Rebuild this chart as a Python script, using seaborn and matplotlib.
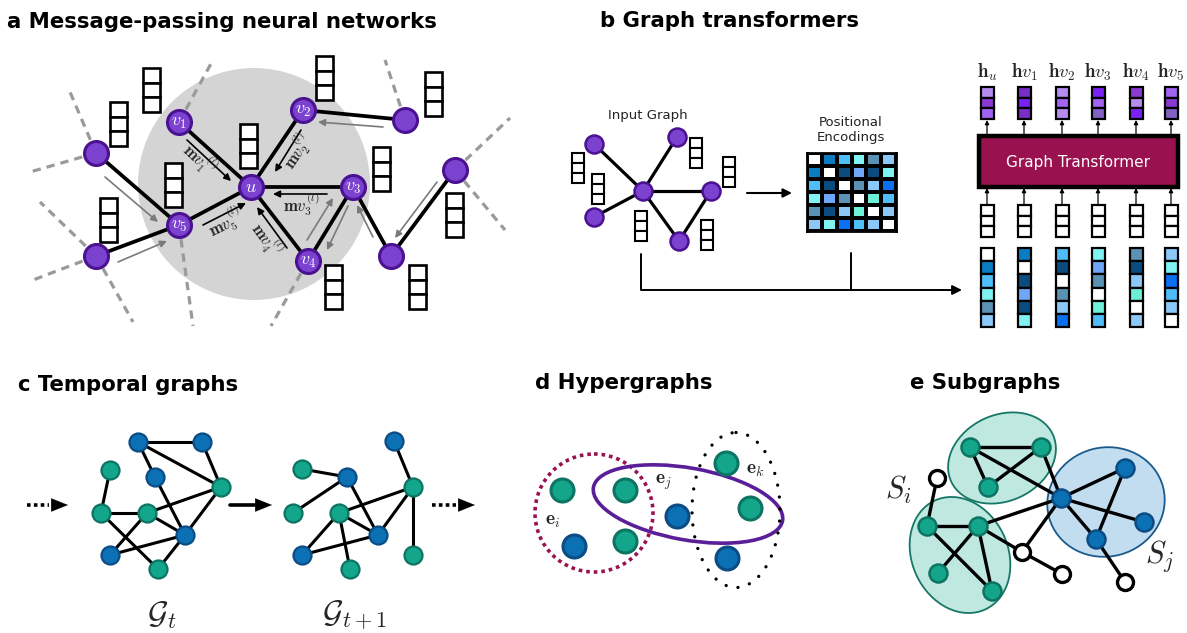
import numpy as np
import seaborn as sns
import matplotlib.pyplot as plt
from matplotlib.patches import Circle, Ellipse, Rectangle
from matplotlib.colors import ListedColormap

sns.set_theme(style='white')
plt.rcParams['font.family'] = ['DejaVu Sans']
plt.rcParams['mathtext.fontset'] = 'cm'

W, H = 1187, 633

# colours
PURPLE, PURPLE_EDGE = '#7B42D0', '#4A1290'
BLUE, BLUE_EDGE = '#0C70B4', '#0B4C84'
GREEN, GREEN_EDGE = '#14A68A', '#0D7464'

# ---------------- panel a : message passing ----------------
a_x = [251, 179, 303, 353, 308, 179, 96, 96, 405, 455, 391]
a_y = [187, 122, 110, 187, 261, 225, 153, 256, 120, 170, 256]
a_labels = ['$u$', '$v_1$', '$v_2$', '$v_3$', '$v_4$', '$v_5$']
a_edges = [(0, 1), (0, 2), (0, 3), (0, 4), (0, 5), (5, 6), (5, 7), (2, 8),
           (3, 4), (3, 10), (10, 9)]
# dashed edges leaving the drawn neighbourhood: node index -> far end
a_dash_from = [1, 6, 6, 7, 7, 7, 5, 4, 8, 9, 9]
a_dash_to = [(213, 60), (70, 92), (30, 172), (40, 202), (33, 280), (133, 322),
             (193, 326), (271, 326), (385, 60), (510, 118), (505, 230)]
a_vec_x = [143, 110, 165, 100, 240, 316, 425, 373, 446, 325, 409]
a_vec_y = [68, 102, 163, 198, 124, 56, 72, 147, 193, 265, 265]
# messages into u (black) and elsewhere (grey)
msg_start = [(187, 140), (301, 130), (327, 194), (203, 225), (287, 248)]
msg_end = [(231, 181), (275, 172), (273, 194), (246, 203), (257, 207)]
msg_text = [r'$\mathbf{m}v_1^{(l)}$', r'$\mathbf{m}v_2^{(l)}$',
            r'$\mathbf{m}v_3^{(l)}$', r'$\mathbf{m}v_5^{(l)}$',
            r'$\mathbf{m}v_4^{(l)}$']
msg_pos = [(200, 158), (297, 151), (301, 204), (225, 222), (267, 239)]
msg_rot = [-43, 56, 0, 26, -54]
gray_start = [(383, 127), (105, 177), (118, 262), (307, 240), (348, 206), (373, 237), (437, 182)]
gray_end = [(318, 122), (158, 222), (167, 241), (333, 198), (327, 250), (357, 205), (395, 238)]

# ---------------- panel b : graph transformer ----------------
b_x = [594, 677, 643, 711, 594, 679]
b_y = [144, 137, 191, 191, 217, 241]
b_edges = [(2, 0), (2, 1), (2, 3), (2, 4), (2, 5), (3, 5)]
b_vec_x = [572, 592, 690, 723, 635, 701]
b_vec_y = [153, 174, 138, 157, 211, 220]
pe_colors = ['#FFFFFF', '#0A7CC1', '#4FBDF7', '#80F2F2', '#5B92B4',
             '#8CC8F7', '#0B4C80', '#70A6F7', '#0A6FF2', '#6EF0D8']
pe = np.array([[0, 1, 2, 3, 4, 5],
               [1, 0, 6, 7, 6, 3],
               [2, 6, 0, 4, 5, 8],
               [3, 7, 4, 0, 9, 2],
               [4, 6, 5, 9, 0, 5],
               [5, 3, 8, 2, 5, 0]])
h_labels = [r'$\mathbf{h}_u$', r'$\mathbf{h}v_1$', r'$\mathbf{h}v_2$',
            r'$\mathbf{h}v_3$', r'$\mathbf{h}v_4$', r'$\mathbf{h}v_5$']
col_x = [987, 1024, 1062, 1098, 1136, 1171]
out_palette = ['#B68CF0', '#8A3AD0', '#A262F2', '#7A2EC8', '#7A22F5', '#8262C4']
out_cells = [[0, 1, 2], [3, 4, 3], [0, 2, 0], [4, 2, 5], [1, 0, 4], [2, 1, 5]]

# ---------------- panel c : temporal graphs ----------------
c1_x = [138, 202, 110, 155, 221, 101, 147, 185, 110, 158]
c1_y = [442, 442, 470, 477, 487, 513, 513, 535, 555, 569]
c1_blue = [1, 1, 0, 1, 0, 0, 0, 1, 1, 0]
c1_edges = [(0, 1), (0, 4), (0, 3), (1, 4), (2, 5), (5, 6), (6, 4), (3, 7),
            (6, 7), (4, 7), (5, 9), (6, 8), (8, 7), (7, 9)]
c2_x = [394, 302, 347, 413, 293, 339, 378, 302, 350, 413]
c2_y = [441, 469, 477, 487, 513, 513, 535, 555, 569, 555]
c2_blue = [1, 0, 1, 0, 0, 0, 1, 1, 0, 0]
c2_edges = [(0, 3), (1, 2), (2, 4), (2, 6), (5, 3), (5, 6), (6, 3), (5, 7),
            (5, 8), (7, 6), (3, 9)]
c_arrow_x = [(27, 68, True), (230, 272, False), (432, 475, True)]

# ---------------- panel d : hypergraphs ----------------
d_x = [562, 625, 574, 625, 677, 726, 750, 727]
d_y = [490, 490, 546, 541, 516, 463, 508, 558]
d_blue = [0, 0, 1, 0, 1, 0, 0, 1]

# ---------------- panel e : subgraphs ----------------
e_x = [970, 1041, 988, 1061, 1125, 1144, 1096, 927, 978, 938, 992]
e_y = [447, 447, 487, 498, 468, 522, 539, 526, 526, 573, 591]
e_blue = [0, 0, 0, 1, 1, 1, 1, 0, 0, 0, 0]
e_free_x = [937, 1022, 1062, 1125]
e_free_y = [478, 552, 574, 582]
e_edges = [((970, 447), (1041, 447)), ((970, 447), (988, 487)), ((970, 447), (1061, 498)),
           ((1041, 447), (988, 487)), ((1041, 447), (1061, 498)), ((1061, 498), (1125, 468)),
           ((1061, 498), (1144, 522)), ((1061, 498), (1096, 539)), ((1125, 468), (1096, 539)),
           ((1061, 498), (978, 526)), ((1061, 498), (1022, 552)), ((937, 478), (927, 526)),
           ((927, 526), (978, 526)), ((927, 526), (992, 591)), ((978, 526), (938, 573)),
           ((978, 526), (992, 591)), ((978, 526), (1022, 552)), ((1022, 552), (1062, 574)),
           ((1096, 539), (1125, 582))]


def draw_nodes(ax, xs, ys, r, fc, ec, lw, z=6):
    # marker diameter in points (100 dpi -> 0.72 pt per pixel)
    sns.scatterplot(x=xs, y=ys, s=(2 * r * 0.72) ** 2, color=fc, edgecolor=ec,
                    linewidth=lw, ax=ax, zorder=z, legend=False)


def draw_vec(ax, x, y, w, h, colors, lw):
    ch = h / len(colors)
    for i, c in enumerate(colors):
        ax.add_patch(Rectangle((x, y + i * ch), w, ch, fc=c, ec='black', lw=lw, zorder=4))


def arrow(ax, p0, p1, color='black', lw=1.3, ms=11, style='-|>'):
    ax.annotate('', xy=p1, xytext=p0,
                arrowprops=dict(arrowstyle=style, color=color, lw=lw,
                                mutation_scale=ms, shrinkA=0, shrinkB=0))


def split_by(xs, ys, flags, want):
    return ([x for x, f in zip(xs, flags) if f == want],
            [y for y, f in zip(ys, flags) if f == want])


fig = plt.figure(figsize=(W / 100, H / 100), dpi=100)
ax = fig.add_axes([0, 0, 1, 1])
ax.set_xlim(0, W)
ax.set_ylim(H, 0)
ax.axis('off')

title_kw = dict(fontsize=15.3, fontweight='bold', va='baseline', color='black')
ax.text(7, 28, 'a Message-passing neural networks', **title_kw)
ax.text(600, 27, 'b Graph transformers', **title_kw)
ax.text(18, 391, 'c Temporal graphs', **title_kw)
ax.text(535, 389, 'd Hypergraphs', **title_kw)
ax.text(910, 389, 'e Subgraphs', **title_kw)

# ---- a ----
ax.add_patch(Circle((254, 184), 116, fc='#d4d4d4', ec='none', zorder=0))
for i, end in zip(a_dash_from, a_dash_to):
    ax.plot([a_x[i], end[0]], [a_y[i], end[1]], color='#9a9a9a', lw=2.3,
            ls=(0, (2.6, 1.9)), zorder=1)
for i, j in a_edges:
    ax.plot([a_x[i], a_x[j]], [a_y[i], a_y[j]], color='black', lw=2.7,
            solid_capstyle='round', zorder=3)
for x, y in zip(a_vec_x, a_vec_y):
    draw_vec(ax, x, y, 17, 44, ['white'] * 3, 1.9)
for p0, p1 in zip(gray_start, gray_end):
    arrow(ax, p0, p1, color='#7a7a7a', lw=1.2, ms=10)
for p0, p1 in zip(msg_start, msg_end):
    arrow(ax, p0, p1, color='black', lw=1.2, ms=10)
for t, (x, y), r in zip(msg_text, msg_pos, msg_rot):
    ax.text(x, y, t, rotation=r, ha='center', va='center', fontsize=12,
            rotation_mode='anchor', zorder=7)
draw_nodes(ax, a_x, a_y, 12, PURPLE, PURPLE_EDGE, 2.2)
for lab, x, y in zip(a_labels, a_x, a_y):
    ax.text(x, y, lab, color='white', fontsize=13, ha='center', va='center', zorder=8)

# ---- b ----
ax.text(648, 115, 'Input Graph', fontsize=9.5, ha='center', va='center', color='#222222')
ax.text(851, 130, 'Positional\nEncodings', fontsize=9.5, ha='center', va='center',
        color='#222222', linespacing=1.15)
for i, j in b_edges:
    ax.plot([b_x[i], b_x[j]], [b_y[i], b_y[j]], color='black', lw=2.3, zorder=3)
draw_nodes(ax, b_x, b_y, 9, PURPLE, PURPLE_EDGE, 1.8)
for x, y in zip(b_vec_x, b_vec_y):
    draw_vec(ax, x, y, 12, 30, ['white'] * 3, 1.5)
arrow(ax, (747, 193), (792, 193), lw=1.5, ms=13)
ax.plot([641, 641, 950], [254, 290, 290], color='black', lw=1.4)
ax.plot([851, 851], [253, 290], color='black', lw=1.4)
arrow(ax, (940, 290), (962, 290), lw=1.4, ms=14)

ax_pe = fig.add_axes([807 / W, 1 - 231 / H, 89 / W, 78 / H])
sns.heatmap(pe, cmap=ListedColormap(pe_colors), vmin=-0.5, vmax=9.5, cbar=False,
            linewidths=1.5, linecolor='black', xticklabels=False, yticklabels=False,
            ax=ax_pe)
for sp in ax_pe.spines.values():
    sp.set_visible(True)
    sp.set_linewidth(2)
    sp.set_color('black')

ax.add_patch(Rectangle((979, 136), 199, 51, fc='#99114F', ec='black', lw=3.2, zorder=3))
ax.text(1078, 162, 'Graph Transformer', color='white', fontsize=11, ha='center',
        va='center', zorder=5)
for k, cx in enumerate(col_x):
    ax.text(cx, 72, h_labels[k], fontsize=13.5, ha='center', va='center')
    draw_vec(ax, cx - 6.5, 87, 13, 32, [out_palette[c] for c in out_cells[k]], 1.6)
    arrow(ax, (cx, 136), (cx, 120), lw=0.9, ms=6)
    arrow(ax, (cx, 205), (cx, 188), lw=0.9, ms=6)
    draw_vec(ax, cx - 6.5, 205, 13, 32, ['white'] * 3, 1.6)
    draw_vec(ax, cx - 6.5, 248, 13, 79, [pe_colors[c] for c in pe[k]], 1.6)

# ---- c ----
for xs, ys, flags, edges in [(c1_x, c1_y, c1_blue, c1_edges), (c2_x, c2_y, c2_blue, c2_edges)]:
    for i, j in edges:
        ax.plot([xs[i], xs[j]], [ys[i], ys[j]], color='black', lw=2.2, zorder=3)
    bx, by = split_by(xs, ys, flags, 1)
    gx, gy = split_by(xs, ys, flags, 0)
    draw_nodes(ax, bx, by, 9, BLUE, BLUE_EDGE, 1.6)
    draw_nodes(ax, gx, gy, 9, GREEN, GREEN_EDGE, 1.6)
head = '-|>,head_length=0.6,head_width=0.24'
for x0, x1, dotted in c_arrow_x:
    if dotted:
        ax.plot([x0, x1 - 19], [505, 505], color='black', lw=2.6, ls=(0, (1.0, 0.9)))
    else:
        ax.plot([x0, x1 - 10], [505, 505], color='black', lw=2.6)
    arrow(ax, (x1 - 16, 505), (x1, 505), lw=0.1, ms=20, style=head)
ax.text(162, 615, r'$\mathcal{G}_t$', fontsize=23, ha='center', va='center')
ax.text(355, 615, r'$\mathcal{G}_{t+1}$', fontsize=23, ha='center', va='center')

# ---- d ----
ax.add_patch(Circle((594, 513), 59, fill=False, ec='#99114F', lw=2.6, ls=(0, (1.0, 1.1)), zorder=2))
ax.add_patch(Ellipse((688, 504), 192, 72, angle=10, fill=False, ec='#5A1E98', lw=2.6, zorder=2))
ell_k = Ellipse((736, 510), 88, 155, angle=0, fill=False, ec='black', lw=2.4,
                ls=(0, (0.01, 3.6)), zorder=2)
ell_k.set_capstyle('round')
ax.add_patch(ell_k)
bx, by = split_by(d_x, d_y, d_blue, 1)
gx, gy = split_by(d_x, d_y, d_blue, 0)
draw_nodes(ax, bx, by, 11.5, BLUE, BLUE_EDGE, 2.2)
draw_nodes(ax, gx, gy, 11.5, GREEN, GREEN_EDGE, 2.2)
ax.text(553, 520, r'$\mathbf{e}_i$', fontsize=14, ha='center', va='center')
ax.text(664, 482, r'$\mathbf{e}_j$', fontsize=14, ha='center', va='center')
ax.text(755, 469, r'$\mathbf{e}_k$', fontsize=14, ha='center', va='center')

# ---- e ----
ax.add_patch(Ellipse((1002, 458), 112, 86, angle=-25, fc='#BFE8E0', ec='#177766', lw=1.3, zorder=1))
ax.add_patch(Ellipse((960, 555), 120, 96, angle=65, fc='#BFE8E0', ec='#177766', lw=1.3, zorder=1))
ax.add_patch(Ellipse((1106, 502), 118, 109, angle=-15, fc='#C3DDF0', ec='#1A5A8C', lw=1.3, zorder=1))
for p0, p1 in e_edges:
    ax.plot([p0[0], p1[0]], [p0[1], p1[1]], color='black', lw=2.4, zorder=3)
bx, by = split_by(e_x, e_y, e_blue, 1)
gx, gy = split_by(e_x, e_y, e_blue, 0)
draw_nodes(ax, bx, by, 9, BLUE, BLUE_EDGE, 1.8)
draw_nodes(ax, gx, gy, 9, GREEN, GREEN_EDGE, 1.8)
draw_nodes(ax, e_free_x, e_free_y, 8, 'white', 'black', 2.4)
ax.text(898, 490, r'$S_i$', fontsize=22, ha='center', va='center')
ax.text(1160, 556, r'$S_j$', fontsize=22, ha='center', va='center')

fig.savefig('out.png', dpi=100)
